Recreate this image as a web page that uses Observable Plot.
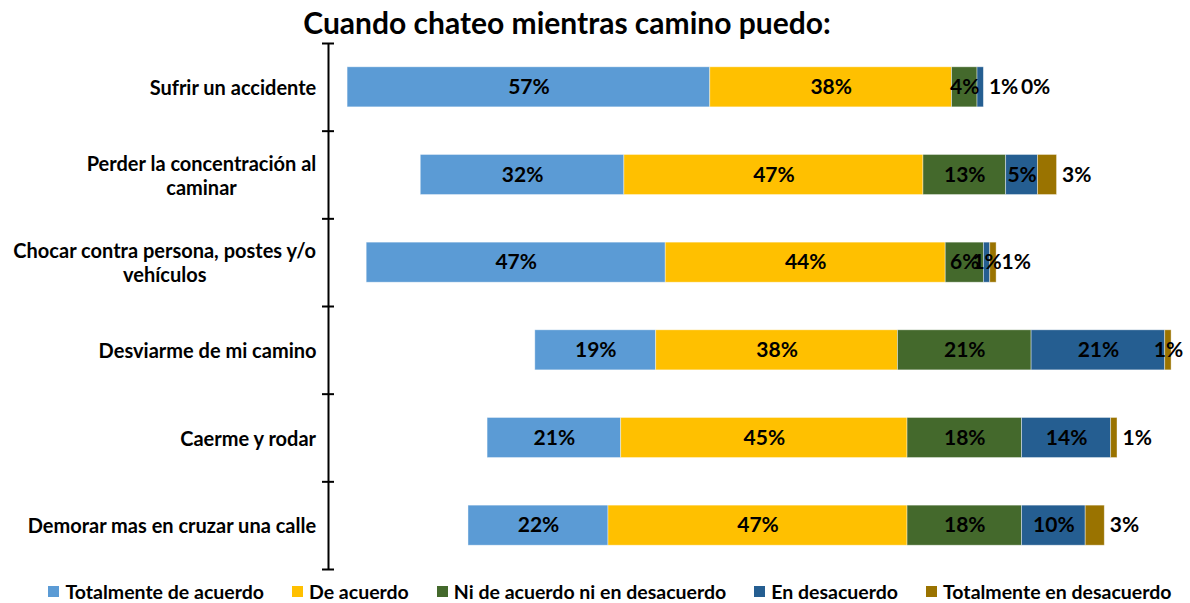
<!DOCTYPE html>
<html>
<head>
<meta charset="utf-8">
<script src="https://cdn.jsdelivr.net/npm/d3@7"></script>
<script src="https://cdn.jsdelivr.net/npm/@observablehq/plot@0.6"></script>
<style>
  html, body { margin: 0; padding: 0; background: #fff; }
  body { width: 1190px; height: 603px; overflow: hidden; font-family: Lato, "Open Sans", sans-serif; }
  #title { height: 40px; line-height: 44px; text-align: center; font-weight: bold; font-size: 30px; padding-right: 56px; box-sizing: border-box; color: #000; }
  #chart svg { display: block; }
  #legend { height: 23px; display: flex; justify-content: center; padding-left: 30px; box-sizing: border-box; }
  .lg-swatches { margin: 0 !important; font-family: Lato, sans-serif !important; font-size: 19.5px !important; font-weight: bold !important; color: #000 !important; }
  .lg-swatches-wrap { min-height: 23px !important; justify-content: center; flex-wrap: nowrap !important; }
  .lg-swatch { margin-right: 28px !important; }
  .lg-swatch:last-child { margin-right: 0 !important; }
  .lg-swatch > svg { margin-right: 6px !important; }
</style>
</head>
<body>
<div id="title">Cuando chateo mientras camino puedo:</div>
<div id="chart"></div>
<div id="legend"></div>
<script>
// ---- data ----
const categories = [
  "Sufrir un accidente",
  "Perder la concentración al\ncaminar",
  "Chocar contra persona, postes y/o\nvehículos",
  "Desviarme de mi camino",
  "Caerme y rodar",
  "Demorar mas en cruzar una calle"
];
const seriesNames = [
  "Totalmente de acuerdo",
  "De acuerdo",
  "Ni de acuerdo ni en desacuerdo",
  "En desacuerdo",
  "Totalmente en desacuerdo"
];
const totalmenteDeAcuerdo   = [57, 32, 47, 19, 21, 22];
const deAcuerdo             = [38, 47, 44, 38, 45, 47];
const niDeAcuerdo           = [4, 13, 6, 21, 18, 18];
const enDesacuerdo          = [1, 5, 1, 21, 14, 10];
const totalmenteDesacuerdo  = [0, 3, 1, 1, 1, 3];
const seriesColors = ["#5B9BD5", "#FFC000", "#44692C", "#255E91", "#9A7300"];

// ---- build table ----
const seriesValues = [totalmenteDeAcuerdo, deAcuerdo, niDeAcuerdo, enDesacuerdo, totalmenteDesacuerdo];
const segments = [];
const rowEnds = [];
categories.forEach((cat, i) => {
  // diverging: centre on the middle of the neutral segment
  let start = -(seriesValues[0][i] + seriesValues[1][i] + seriesValues[2][i] / 2);
  seriesValues.forEach((vals, s) => {
    const v = vals[i];
    segments.push({i, series: seriesNames[s], s, value: v, x1: start, x2: start + v});
    start += v;
  });
  rowEnds.push(start);
});

const W = 1190, H = 540;
const mL = 328, mR = 3, mT = 3, mB = 11;
const xDomain = [-100, 35];
const pxPerUnit = (W - mL - mR) / (xDomain[1] - xDomain[0]);

// measure text
const ctx = document.createElement("canvas").getContext("2d");
function textWidth(t, size) { ctx.font = `bold ${size}px Lato`; return ctx.measureText(t).width; }

const valueSize = 21;
const catSize = 20;
const fmt = v => `${v}%`;
// label placement: last series (and a tail segment followed by 0) sit outside the bar end
const n = seriesNames.length;
const centered = [], outside0 = [], outside1 = [];
segments.forEach(d => {
  const last = d.s === n - 1;
  const nextZero = d.s === n - 2 && seriesValues[n - 1][d.i] === 0;
  if (last || nextZero) {
    const endPx = mL + (rowEnds[d.i] - xDomain[0]) * pxPerUnit;
    const slot = (last && seriesValues[n - 2][d.i] && seriesValues[n - 1][d.i] === 0) ? 1 : 0;
    if (endPx + 4 + textWidth(fmt(d.value), valueSize) > W) centered.push(d);
    else (slot ? outside1 : outside0).push({...d, xe: rowEnds[d.i]});
  } else centered.push(d);
});

const labelMarks = categories.map((c, i) => {
  const lines = c.split("\n");
  const w = Math.max(...lines.map(l => textWidth(l, catSize)));
  return Plot.text([i], {
    y: d => d + 0.5, text: () => c, frameAnchor: "left", textAnchor: "middle",
    dx: -(12 + w / 2), lineHeight: 1.2, fontSize: catSize, fontWeight: "bold", fill: "#000"
  });
});

const chart = Plot.plot({
  width: W, height: H,
  marginLeft: mL, marginRight: mR, marginTop: mT, marginBottom: mB,
  style: {fontFamily: "Lato, sans-serif", background: "#fff", color: "#000"},
  x: {domain: xDomain, axis: null},
  y: {domain: [0, categories.length], reverse: true, axis: null},
  color: {domain: seriesNames, range: seriesColors},
  marks: [
    Plot.rectX(segments, {
      x1: "x1", x2: "x2", y1: d => d.i, y2: d => d.i + 1,
      insetTop: 23.8, insetBottom: 23.8, fill: "series",
      stroke: "#ffffff", strokeOpacity: 0.5, strokeWidth: 0.8
    }),
    Plot.ruleX([xDomain[0]], {stroke: "#000", strokeWidth: 2}),
    Plot.axisY({ticks: d3.range(categories.length + 1), tickSize: 12, dx: 6, tickFormat: () => "", stroke: "#000", strokeWidth: 2}),
    ...labelMarks,
    Plot.text(centered, {
      x: d => (d.x1 + d.x2) / 2, y: d => d.i + 0.5, text: d => fmt(d.value),
      fontSize: valueSize, fontWeight: "bold", fill: "#000"
    }),
    Plot.text(outside0, {
      x: "xe", y: d => d.i + 0.5, text: d => fmt(d.value), textAnchor: "start", dx: 5,
      fontSize: valueSize, fontWeight: "bold", fill: "#000"
    }),
    Plot.text(outside1, {
      x: "xe", y: d => d.i + 0.5, text: d => fmt(d.value), textAnchor: "start", dx: 37,
      fontSize: valueSize, fontWeight: "bold", fill: "#000"
    })
  ]
});
document.getElementById("chart").appendChild(chart);

const legend = Plot.legend({
  color: {domain: seriesNames, range: seriesColors},
  legend: "swatches", swatchSize: 11, className: "lg"
});
document.getElementById("legend").appendChild(legend);
</script>
</body>
</html>
